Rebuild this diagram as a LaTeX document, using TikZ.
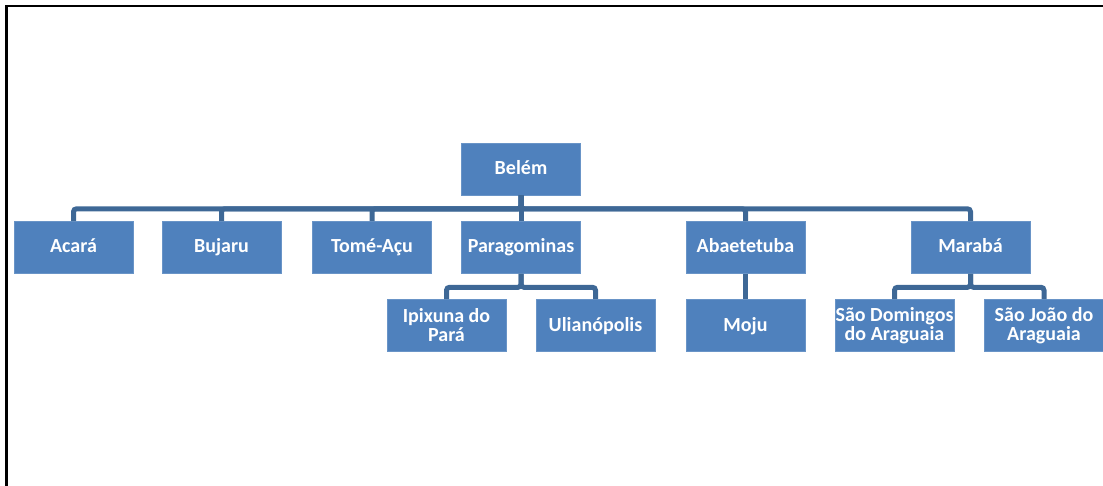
\documentclass[tikz,border=0pt]{standalone}
\usepackage{fontspec}
\setmainfont{Carlito}
\definecolor{boxblue}{RGB}{79,129,189}
\definecolor{linkblue}{RGB}{62,104,150}
\begin{document}
\begin{tikzpicture}[x=1pt,y=-1pt,
  city/.style={rectangle,fill=boxblue,draw=boxblue!85!white,line width=0.6pt,minimum width=119pt,minimum height=52pt,inner sep=0pt,
    text=white,font=\fontsize{20}{19}\selectfont\bfseries,align=center},
  city1/.style={city,text height=14pt,text depth=3pt},
  link/.style={linkblue,line width=5pt,rounded corners=3pt}]
\useasboundingbox (0,0) rectangle (1103,486);
\draw[line width=2.5pt] (6.5,486)--(6.5,6)--(1103,6);

\node (Bel) at (521,169) [city1]{Belém};

\node (Aca) at (73.5,247.5) [city1]{Acará};
\node (Buj) at (221.5,247.5) [city1]{Bujaru};
\node (Tom) at (372,247.5) [city1]{Tomé-Açu};
\node (Par) at (521,247.5) [city1]{Paragominas};
\node (Aba) at (745.5,247.5) [city1]{Abaetetuba};
\node (Mar) at (970.5,247.5) [city1]{Marabá};

\node (Ipi) at (446.5,325.5) [city]{Ipixuna do\\Pará};
\node (Uli) at (595.5,325.5) [city1]{Ulianópolis};
\node (Moj) at (745.5,325.5) [city1]{Moju};
\node (SDo) at (894.5,325.5) [city]{São Domingos\\do Araguaia};
\node (SJo) at (1044,325.5) [city]{São João do\\Araguaia};

\draw[link] (Bel.south)--++(0,13.5)-|(Aca.north);
\draw[link] (Bel.south)--++(0,13.5)-|(Buj.north);
\draw[link] (Bel.south)--++(0,13.5)-|(Tom.north);
\draw[link] (Bel.south)--(Par.north);
\draw[link] (Bel.south)--++(0,13.5)-|(Aba.north);
\draw[link] (Bel.south)--++(0,13.5)-|(Mar.north);

\draw[link] (Par.south)--++(0,13.5)-|(Ipi.north);
\draw[link] (Par.south)--++(0,13.5)-|(Uli.north);
\draw[link] (Aba.south)--(Moj.north);
\draw[link] (Mar.south)--++(0,13.5)-|(SDo.north);
\draw[link] (Mar.south)--++(0,13.5)-|(SJo.north);

\end{tikzpicture}
\end{document}
